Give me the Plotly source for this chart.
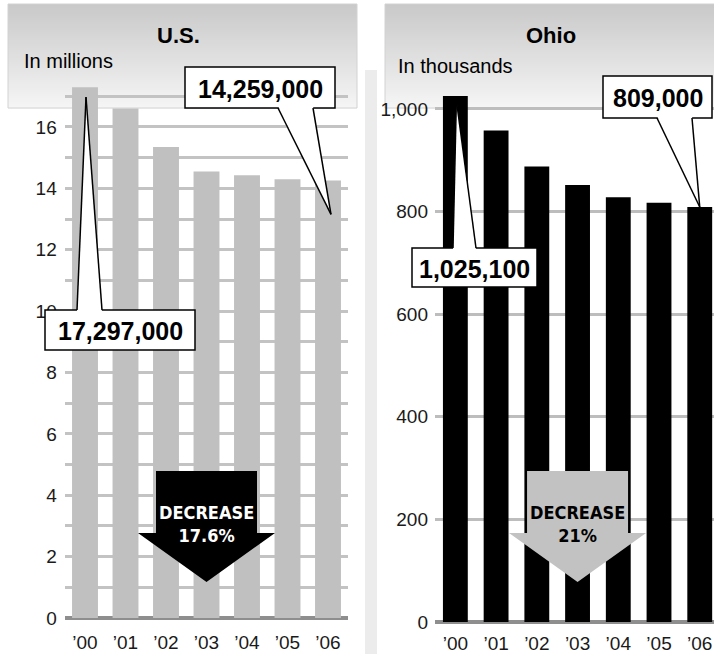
import plotly.graph_objects as go

# ---- data -------------------------------------------------------------
years = ["’00", "’01", "’02", "’03", "’04", "’05", "’06"]
us_millions = [17.297, 16.60, 15.35, 14.55, 14.43, 14.30, 14.259]
ohio_thousands = [1025.1, 958, 888, 852, 828, 817, 809]

us_tickvals = list(range(0, 18))
us_ticktext = ["0", "", "2", "", "4", "", "6", "", "8", "", "10", "", "12", "", "14", "", "16", ""]
ohio_tickvals = [0, 200, 400, 600, 800, 1000]
ohio_ticktext = ["0", "200", "400", "600", "800", "1,000"]

us_title, us_unit = "U.S.", "In millions"
ohio_title, ohio_unit = "Ohio", "In thousands"
us_first_label, us_last_label = "17,297,000", "14,259,000"
ohio_first_label, ohio_last_label = "1,025,100", "809,000"
us_change, ohio_change = "17.6%", "21%"

# ---- page geometry (pixels) -------------------------------------------
W, H = 714, 654
US = dict(x0=64.75, x1=348.25, xr=(-0.5, 6.5), top=80, bottom=618, ymax=17.53)
OH = dict(x0=435.0, x1=714.0, xr=(-0.5, 6.35), top=80, bottom=622, ymax=1056.5)


def fx(px):
    return px / W


def fy(py):
    return 1 - py / H


def bar_top(panel, i, v):
    """Pixel position of the top centre of bar i with value v."""
    x = panel["x0"] + (i - panel["xr"][0]) / (panel["xr"][1] - panel["xr"][0]) * (panel["x1"] - panel["x0"])
    y = panel["bottom"] - v / panel["ymax"] * (panel["bottom"] - panel["top"])
    return x, y


SANS = "Liberation Sans, Arial, sans-serif"
TICK_FONT = dict(family=SANS, size=19, color="#1a1a1a")
NARROW = "DejaVu Sans Condensed, Liberation Sans Narrow, sans-serif"

fig = go.Figure()
fig.add_trace(go.Bar(x=years, y=us_millions, marker=dict(color="#c0c0c0", line_width=0),
                     width=0.64, xaxis="x", yaxis="y", hoverinfo="skip"))
fig.add_trace(go.Bar(x=years, y=ohio_thousands, marker=dict(color="#000000", line_width=0),
                     width=0.61, xaxis="x2", yaxis="y2", hoverinfo="skip"))

shapes = []
annotations = []


# header panels with a vertical grey gradient
def header(x0, x1, y0=4, y1=108, n=52):
    c0, c1 = 0xc9, 0xf5
    step = (y1 - y0) / n
    for k in range(n):
        c = round(c0 + (c1 - c0) * k / (n - 1))
        col = f"rgb({c},{c},{c})"
        shapes.append(dict(type="rect", xref="paper", yref="paper", layer="below",
                           x0=fx(x0), x1=fx(x1), y0=fy(y0 + k * step), y1=fy(y0 + (k + 1) * step + 0.6),
                           fillcolor=col, line_width=0))
    shapes.append(dict(type="rect", xref="paper", yref="paper", layer="below",
                       x0=fx(x0), x1=fx(x1), y0=fy(y0), y1=fy(y1),
                       fillcolor="rgba(0,0,0,0)", line=dict(color="#d2d2d2", width=1)))


header(8, 357)
header(385, 716)

# light strip along the left edge of the Ohio panel
shapes.append(dict(type="rect", xref="paper", yref="paper", layer="below",
                   x0=fx(365), x1=fx(377), y0=fy(654), y1=fy(70),
                   fillcolor="#ececec", line_width=0))


def callout(text, box, base, apex, side):
    """Value box with a white wedge pointing at a bar. side='top' or 'bottom' of box."""
    bx0, by0, bx1, by1 = box
    shapes.append(dict(type="rect", xref="paper", yref="paper", layer="above",
                       x0=fx(bx0), x1=fx(bx1), y0=fy(by0), y1=fy(by1),
                       fillcolor="white", line=dict(color="black", width=1.5)))
    ax, ay = apex
    bl, br = base
    by = by0 if side == "top" else by1
    inner = by + 2 if side == "top" else by - 2
    shapes.append(dict(type="path", xref="paper", yref="paper", layer="above",
                       path=f"M{fx(bl)},{fy(inner)} L{fx(ax)},{fy(ay)} L{fx(br)},{fy(inner)} Z",
                       fillcolor="white", line_width=0))
    for bx in (bl, br):
        shapes.append(dict(type="line", xref="paper", yref="paper", layer="above",
                           x0=fx(bx), y0=fy(by), x1=fx(ax), y1=fy(ay),
                           line=dict(color="black", width=1.5)))
    annotations.append(dict(xref="paper", yref="paper", x=fx((bx0 + bx1) / 2), y=fy((by0 + by1) / 2 + 1),
                            text=f"<b>{text}</b>", showarrow=False, xanchor="center", yanchor="middle",
                            font=dict(family=SANS, size=25, color="black")))


# U.S. callouts
x, y = bar_top(US, 0, us_millions[0])
callout(us_first_label, (45, 310, 195, 350), (77, 102), (x + 1, y + 10), "top")
x, y = bar_top(US, 6, us_millions[6])
callout(us_last_label, (185, 67, 335, 108), (278, 313), (x + 3, y + 34), "bottom")

# Ohio callouts
x, y = bar_top(OH, 0, ohio_thousands[0])
callout(ohio_first_label, (412, 248, 537, 287), (453, 476), (x + 1, y + 4), "top")
x, y = bar_top(OH, 6, ohio_thousands[6])
callout(ohio_last_label, (603, 76, 712, 118), (657, 692), (x, y), "bottom")


def down_arrow(cx, color, text, text_color):
    sx0, sx1, sy0, sy1 = cx - 50.5, cx + 50.5, 471, 533
    hx0, hx1, apex = cx - 68.5, cx + 68.5, 582
    pts = [(sx0, sy0), (sx1, sy0), (sx1, sy1), (hx1, sy1), (cx, apex), (hx0, sy1), (sx0, sy1)]
    path = "M" + " L".join(f"{fx(a)},{fy(b)}" for a, b in pts) + " Z"
    shapes.append(dict(type="path", xref="paper", yref="paper", layer="above",
                       path=path, fillcolor=color, line_width=0))
    annotations.append(dict(xref="paper", yref="paper", x=fx(cx), y=fy(524),
                            text=f"<b>DECREASE<br>{text}</b>", showarrow=False,
                            xanchor="center", yanchor="middle",
                            font=dict(family=NARROW, size=18, color=text_color)))


down_arrow(bar_top(US, 3, 0)[0], "#000000", us_change, "white")
down_arrow(bar_top(OH, 3, 0)[0], "#c2c2c2", ohio_change, "black")

# panel titles
for tx, ty, txt in [(178, 35, us_title), (551, 35, ohio_title)]:
    annotations.append(dict(xref="paper", yref="paper", x=fx(tx), y=fy(ty), text=f"<b>{txt}</b>",
                            showarrow=False, xanchor="center", yanchor="middle",
                            font=dict(family=SANS, size=22, color="black")))
for tx, ty, txt in [(22, 61, us_unit), (396, 66, ohio_unit)]:
    annotations.append(dict(xref="paper", yref="paper", x=fx(tx), y=fy(ty), text=txt,
                            showarrow=False, xanchor="left", yanchor="middle",
                            font=dict(family=SANS, size=20, color="black")))

fig.update_layout(
    width=W, height=H, margin=dict(l=0, r=0, t=0, b=0, autoexpand=False),
    paper_bgcolor="white", plot_bgcolor="rgba(0,0,0,0)",
    showlegend=False, barmode="group",
    shapes=shapes, annotations=annotations,
    xaxis=dict(domain=[fx(US["x0"]), fx(US["x1"])], range=list(US["xr"]), anchor="y",
               showgrid=False, zeroline=False, showline=False, ticks="", automargin=False,
               tickfont=TICK_FONT, ticklabelstandoff=11, fixedrange=True),
    yaxis=dict(domain=[fy(US["bottom"]), fy(US["top"])], range=[0, US["ymax"]], anchor="x",
               tickmode="array", tickvals=us_tickvals, ticktext=us_ticktext,
               showgrid=True, gridcolor="#c3c3c3", gridwidth=2.5,
               zeroline=True, zerolinecolor="#8e8e8e", zerolinewidth=4, automargin=False,
               showline=False, ticks="", tickfont=TICK_FONT, ticklabelstandoff=7, fixedrange=True),
    xaxis2=dict(domain=[fx(OH["x0"]), fx(OH["x1"])], range=list(OH["xr"]), anchor="y2",
                showgrid=False, zeroline=False, showline=False, ticks="", automargin=False,
                tickfont=TICK_FONT, ticklabelstandoff=8, fixedrange=True),
    yaxis2=dict(domain=[fy(OH["bottom"]), fy(OH["top"])], range=[0, OH["ymax"]], anchor="x2",
                tickmode="array", tickvals=ohio_tickvals, ticktext=ohio_ticktext,
                showgrid=True, gridcolor="#bdbdbd", gridwidth=2.5,
                zeroline=True, zerolinecolor="#8e8e8e", zerolinewidth=4, automargin=False,
                showline=False, ticks="", tickfont=TICK_FONT, ticklabelstandoff=6, fixedrange=True),
)

fig.write_html("out.html")
